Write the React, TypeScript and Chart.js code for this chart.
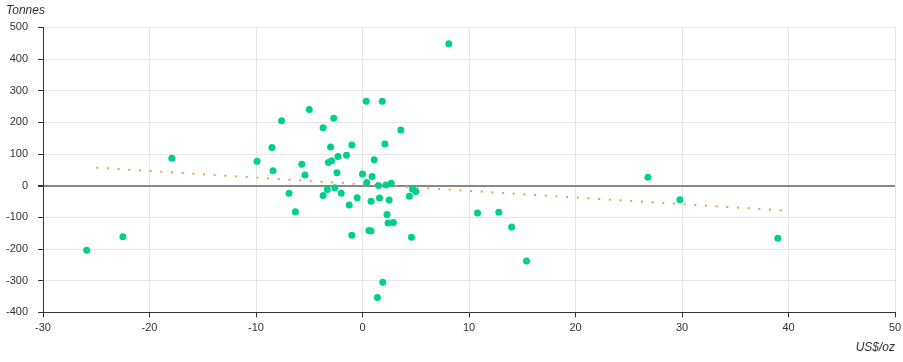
import React, { useEffect, useRef } from "react";
import { Chart, registerables } from "chart.js";

Chart.register(...registerables);

// Price change (US$/oz) vs. demand change (Tonnes)
const priceChange: number[] = [
  -25.9, -22.5, -17.9, -9.9, -8.5, -8.4, -7.6, -5.0, -2.7, -3.7,
  0.35, 1.85, 8.1, 3.6, 2.1, -3.0, -1.0, -5.7, -5.4, -3.2,
  -2.9, -2.3, -1.5, 1.1, -2.4, 0.0, 0.9, 0.4, 1.5, 2.2,
  2.7, -6.9, -6.3, -3.3, -2.6, -3.7, -2.0, -0.5, -1.25, 0.8,
  1.6, 2.5, 2.3, 2.4, 2.9, 0.6, 0.8, -1.0, 4.6, 4.4,
  4.7, 5.0, 1.9, 1.4, 10.8, 12.8, 14.0, 15.4, 26.8, 29.8,
  39.0,
];
const tonnesChange: number[] = [
  -204, -161, 87, 77, 121, 47, 205, 241, 213, 183,
  267, 267, 448, 176, 132, 122, 129, 68, 34, 73,
  79, 92, 96, 82, 41, 37, 29, 10, 1, 2,
  8, -24, -82, -12, -6, -31, -24, -38, -61, -49,
  -39, -45, -91, -118, -116, -141, -143, -156, -163, -33,
  -11, -18, -305, -353, -86, -84, -130, -238, 27, -44,
  -166,
];
const trendX: number[] = [-25, 40];
const trendY: number[] = [57, -79];

const xMin = -30;
const xMax = 50;
const yMin = -400;
const yMax = 500;
const xTitle = "US$/oz";
const yTitle = "Tonnes";

const FONT = "'Liberation Sans', Arial, sans-serif";

export default function App() {
  const ref = useRef<HTMLCanvasElement | null>(null);

  useEffect(() => {
    if (!ref.current) return;
    const points = priceChange.map((x, i) => ({ x, y: tonnesChange[i] }));
    const trend = trendX.map((x, i) => ({ x, y: trendY[i] }));

    const chart = new Chart(ref.current, {
      type: "scatter",
      data: {
        datasets: [
          {
            label: "Trend",
            data: trend,
            showLine: true,
            borderColor: "#E2A94E",
            borderWidth: 2,
            borderDash: [2, 8.7],
            pointRadius: 0,
            fill: false,
            order: 2,
          },
          {
            label: "Data",
            data: points,
            backgroundColor: "rgb(0, 208, 140)",
            borderWidth: 0,
            pointRadius: 3.5,
            order: 1,
          },
        ],
      },
      options: {
        responsive: false,
        maintainAspectRatio: false,
        animation: false,
        layout: { padding: { left: 6, right: 0, top: 0, bottom: 7 } },
        plugins: {
          legend: { display: false },
          tooltip: { enabled: false },
          title: {
            display: true,
            text: yTitle,
            align: "start",
            color: "#333",
            font: { family: FONT, size: 12, style: "italic", weight: "normal" },
            padding: { top: 3, bottom: 10 },
          },
        },
        scales: {
          x: {
            type: "linear",
            min: xMin,
            max: xMax,
            afterFit: (scale: any) => {
              scale.paddingRight = 8;
              scale.paddingLeft = 0;
            },
            ticks: {
              stepSize: 10,
              color: "#333",
              font: { family: FONT, size: 11 },
              padding: 4,
            },
            grid: {
              color: "#e6e6e6",
              tickColor: "#333",
              tickLength: 5,
            },
            border: { color: "#333", width: 1 },
            title: {
              display: true,
              text: xTitle,
              align: "end",
              color: "#333",
              font: { family: FONT, size: 12, style: "italic", weight: "normal" },
              padding: { top: 2, bottom: 0 },
            },
          },
          y: {
            type: "linear",
            min: yMin,
            max: yMax,
            afterFit: (scale: any) => {
              scale.width = 37;
            },
            ticks: {
              stepSize: 100,
              color: "#333",
              font: { family: FONT, size: 11 },
              padding: 10,
            },
            grid: {
              color: (ctx: any) => (ctx.tick && ctx.tick.value === 0 ? "#888" : "#e6e6e6"),
              lineWidth: (ctx: any) => (ctx.tick && ctx.tick.value === 0 ? 2 : 1),
              tickColor: "#333",
              tickLength: 5,
            },
            border: { color: "#333", width: 1 },
          },
        },
      },
    });
    return () => chart.destroy();
  }, []);

  return (
    <div style={{ position: "fixed", left: 0, top: 0, width: 903, height: 362, background: "#fff" }}>
      <canvas ref={ref} width={903} height={362} style={{ width: 903, height: 362, display: "block" }} />
    </div>
  );
}
